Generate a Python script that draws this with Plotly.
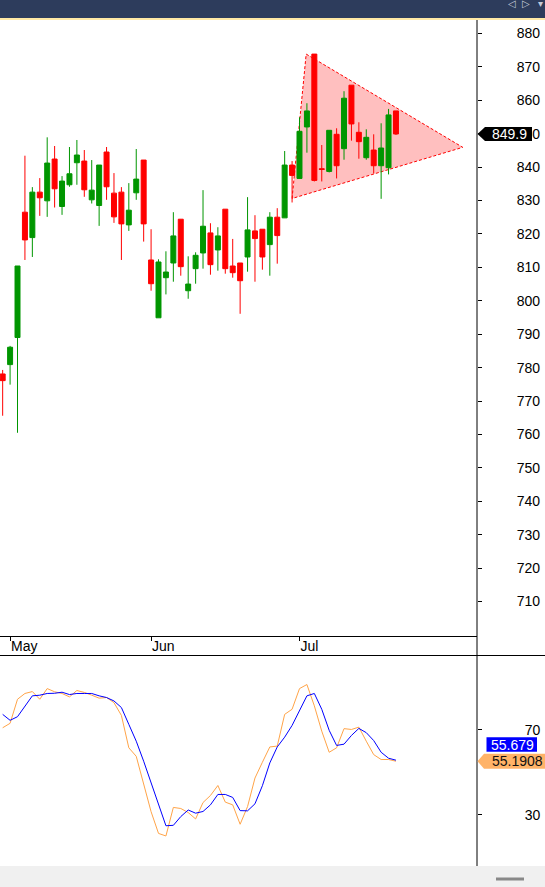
import plotly.graph_objects as go

# ---------------- data ----------------
idx = list(range(54))
opens = [778.1, 780.9, 789.0, 826.5, 818.9, 832.5, 829.9, 842.4, 828.2, 834.7,
         841.3, 841.8, 830.2, 828.5, 844.5, 832.2, 832.5, 822.7, 832.3, 842.1,
         812.2, 794.9, 806.9, 811.3, 824.4, 803.0, 809.6, 814.3, 820.3, 815.2,
         827.4, 810.4, 811.3, 813.1, 820.9, 821.4, 816.8, 825.0, 824.8, 840.6,
         836.6, 852.0, 873.8, 839.5, 838.7, 849.8, 845.5, 864.5, 850.4, 842.8,
         845.1, 840.4, 839.8, 856.8]
highs = [779.3, 786.5, 810.4, 843.4, 834.0, 836.7, 848.9, 846.3, 837.3, 846.0,
         848.1, 845.1, 842.1, 840.6, 846.0, 838.2, 834.0, 835.2, 845.4, 842.1,
         821.4, 812.4, 814.8, 826.5, 824.4, 813.3, 814.5, 833.1, 823.2, 822.0,
         827.4, 818.5, 811.3, 831.0, 825.6, 821.4, 826.5, 827.7, 844.8, 841.8,
         854.9, 859.1, 873.8, 846.6, 851.0, 851.6, 862.7, 864.5, 853.4, 851.3,
         849.8, 853.1, 857.4, 856.8]
lows = [765.6, 774.9, 760.5, 812.2, 813.1, 825.4, 825.1, 827.9, 825.7, 834.1,
        834.7, 831.1, 829.1, 822.4, 830.2, 823.3, 812.2, 820.9, 830.2, 817.7,
        803.0, 794.9, 801.9, 805.7, 807.5, 800.6, 805.1, 809.6, 807.8, 809.0,
        808.1, 806.9, 796.1, 808.7, 805.7, 809.3, 807.5, 811.1, 824.8, 829.4,
        836.6, 844.3, 835.7, 835.7, 838.4, 836.6, 842.2, 847.9, 842.5, 842.2,
        838.1, 830.5, 837.8, 849.6]
closes = [776.1, 786.1, 810.4, 818.2, 832.5, 830.8, 841.2, 833.5, 835.8, 838.0,
          843.6, 833.2, 833.1, 840.6, 834.1, 825.1, 823.0, 827.1, 836.4, 823.0,
          805.1, 811.6, 808.6, 819.4, 810.2, 805.0, 813.6, 822.3, 810.8, 819.4,
          809.6, 808.4, 806.0, 821.2, 818.6, 813.1, 825.0, 819.5, 840.6, 837.5,
          850.7, 856.8, 836.0, 839.3, 851.0, 840.4, 860.6, 852.9, 847.6, 848.9,
          840.4, 845.7, 855.6, 849.9]

month_idx = [1, 20, 40]
month_lbl = ["May", "Jun", "Jul"]
price_ticks = list(range(710, 881, 10))

# triangle pattern (index, price)
tri_x = [39.0, 40.9, 62.0]
tri_y = [830.6, 873.8, 845.9]

# oscillator lines
osc_blue = [77.2, 74.4, 76.1, 81.2, 85.9, 86.2, 87.0, 87.1, 87.6, 86.5,
            87.0, 87.0, 87.0, 85.9, 85.1, 83.5, 80.4, 72.5, 64.6, 55.2,
            44.9, 34.7, 24.9, 25.1, 29.2, 32.3, 30.8, 31.6, 34.7, 39.6,
            39.6, 38.2, 32.0, 31.9, 35.2, 43.7, 54.4, 61.9, 66.5, 72.0,
            78.8, 85.9, 87.0, 79.6, 69.7, 62.6, 63.2, 67.3, 70.6, 68.6,
            64.9, 59.4, 56.6, 55.679]
osc_orange = [70.9, 73.0, 84.3, 87.0, 87.9, 84.3, 89.3, 87.8, 87.0, 85.4,
              88.4, 87.5, 86.2, 84.8, 85.1, 82.7, 76.7, 61.5, 57.5, 44.9,
              31.5, 21.3, 20.1, 33.5, 33.0, 31.1, 28.1, 35.8, 39.1, 43.8,
              36.0, 34.7, 25.6, 33.9, 47.3, 54.7, 61.9, 62.3, 77.2, 79.6,
              89.3, 91.2, 81.2, 69.3, 59.4, 61.5, 70.5, 70.1, 71.2, 64.6,
              58.3, 56.0, 56.0, 55.1908]
osc_ticks = [30, 70]

# ---------------- layout geometry ----------------
W, H = 545, 887
ML, MR, MT, MB = 0, 68, 20, 21
PW, PH = W - ML - MR, H - MT - MB


def py(y):   # pixel row -> paper y
    return (H - MB - y) / PH


def px(x):   # pixel col -> paper x
    return (x - ML) / PW


GREEN = "#009600"
RED = "#FF0000"
BLUE = "#0000FF"
ORANGE = "#FFA448"
FONT = "Liberation Sans, Arial, sans-serif"

fig = go.Figure()

fig.add_trace(go.Candlestick(
    x=idx, open=opens, high=highs, low=lows, close=closes,
    increasing=dict(line=dict(color=GREEN, width=1), fillcolor=GREEN),
    decreasing=dict(line=dict(color=RED, width=1), fillcolor=RED),
    whiskerwidth=0, xaxis="x", yaxis="y", showlegend=False, hoverinfo="skip",
))

fig.add_trace(go.Scatter(x=idx, y=osc_orange, mode="lines",
                         line=dict(color=ORANGE, width=1),
                         xaxis="x2", yaxis="y2", showlegend=False))
fig.add_trace(go.Scatter(x=idx, y=osc_blue, mode="lines",
                         line=dict(color=BLUE, width=1),
                         xaxis="x2", yaxis="y2", showlegend=False))

shapes = []
# triangle (below candles)
tri_path = "M {},{} L {},{} L {},{} Z".format(tri_x[0], tri_y[0], tri_x[1], tri_y[1], tri_x[2], tri_y[2])
shapes.append(dict(type="path", xref="x", yref="y", path=tri_path,
                   fillcolor="rgba(255,0,0,0.25)", layer="below",
                   line=dict(color=RED, width=1, dash="3px,2px")))

# header bar & accent line
shapes.append(dict(type="rect", xref="paper", yref="paper", x0=px(0), x1=px(W),
                   y0=py(18), y1=py(0), fillcolor="#2D3C5C", line=dict(width=0)))
shapes.append(dict(type="rect", xref="paper", yref="paper", x0=px(0), x1=px(W),
                   y0=py(20), y1=py(18), fillcolor="#FFE9A6", line=dict(width=0)))
# bottom strip and handle
shapes.append(dict(type="rect", xref="paper", yref="paper", x0=px(0), x1=px(W),
                   y0=py(H), y1=py(866), fillcolor="#F0F0F0", line=dict(width=0)))
shapes.append(dict(type="line", xref="paper", yref="paper", x0=px(496), x1=px(524),
                   y0=py(879), y1=py(879), line=dict(color="#888888", width=3)))
# vertical axis line and pane separator
shapes.append(dict(type="line", xref="paper", yref="paper", x0=1, x1=1,
                   y0=0, y1=1, line=dict(color="black", width=1)))
shapes.append(dict(type="line", xref="paper", yref="paper", x0=0, x1=px(W),
                   y0=py(655.5), y1=py(655.5), line=dict(color="black", width=1)))

# last price tag (black pentagon)
c = closes[-1]
hh = 2.1
shapes.append(dict(type="path", xref="paper", yref="y",
                   path="M {a},{c} L {b},{t} L {r},{t} L {r},{bt} L {b},{bt} Z".format(
                       a=px(477.5), b=px(485), r=px(532), c=c, t=c + hh, bt=c - hh),
                   fillcolor="black", line=dict(width=0)))
# orange oscillator tag
oc = osc_orange[-1]
oh = 3.5
shapes.append(dict(type="path", xref="paper", yref="y2",
                   path="M {a},{c} L {b},{t} L {r},{t} L {r},{bt} L {b},{bt} Z".format(
                       a=px(477.5), b=px(484), r=px(545), c=oc, t=oc + oh, bt=oc - oh),
                   fillcolor="#FFB368", line=dict(width=0)))
# blue oscillator tag (shifted up to avoid overlap)
bc = 63.0
shapes.append(dict(type="rect", xref="paper", yref="y2", x0=px(486.5), x1=px(537),
                   y0=bc - 3.4, y1=bc + 3.4, fillcolor=BLUE, line=dict(width=0)))

annotations = [
    dict(xref="paper", yref="y", x=px(509), y=c, text="{:.1f}".format(c), showarrow=False,
         font=dict(family=FONT, size=14, color="white"), xanchor="center", yanchor="middle"),
    dict(xref="paper", yref="y2", x=px(517), y=oc, text="55.1908", showarrow=False,
         font=dict(family=FONT, size=14, color="#111111"), xanchor="center", yanchor="middle"),
    dict(xref="paper", yref="y2", x=px(512.5), y=bc, text="55.679", showarrow=False,
         font=dict(family=FONT, size=14, color="white"), xanchor="center", yanchor="middle"),
]
for xx, ch in [(512, "◁"), (526, "▷"), (540, "▾")]:
    annotations.append(dict(xref="paper", yref="paper", x=px(xx), y=py(4), text=ch,
                            showarrow=False, font=dict(family="DejaVu Sans", size=10, color="#C4CAD8"),
                            xanchor="center", yanchor="middle"))

axis_font = dict(family=FONT, size=14, color="black")

fig.update_layout(
    width=W, height=H,
    margin=dict(l=ML, r=MR, t=MT, b=MB, pad=0),
    paper_bgcolor="white", plot_bgcolor="white",
    showlegend=False,
    boxgap=0.33, boxgroupgap=0,
    shapes=shapes, annotations=annotations,
    xaxis=dict(domain=[0, 1], anchor="y", range=[-0.36, 63.92],
               tickmode="array", tickvals=month_idx, ticktext=month_lbl,
               ticks="outside", ticklen=4, tickcolor="black", tickwidth=1,
               ticklabelposition="outside right", tickfont=axis_font,
               ticklabelstandoff=-3,
               showline=True, linecolor="black", linewidth=1,
               showgrid=False, zeroline=False, rangeslider=dict(visible=False)),
    yaxis=dict(domain=[py(636), 1], anchor="x", side="right", range=[699.7, 884.0],
               tickmode="array", tickvals=price_ticks,
               ticks="outside", ticklen=4, tickcolor="black", tickwidth=1,
               tickfont=axis_font, ticklabelstandoff=32,
               showline=False, showgrid=False, zeroline=False),
    xaxis2=dict(domain=[0, 1], anchor="y2", matches="x", showticklabels=False,
                ticks="", showline=False, showgrid=False, zeroline=False),
    yaxis2=dict(domain=[0, py(656)], anchor="x2", side="right", range=[6.0, 104.6],
                tickmode="array", tickvals=osc_ticks,
                ticks="outside", ticklen=4, tickcolor="black", tickwidth=1,
                tickfont=axis_font, ticklabelstandoff=40,
                showline=False, showgrid=False, zeroline=False),
)

fig.write_html("out.html", config={"displayModeBar": False},
               post_script="document.body.style.margin='0';document.body.style.overflow='hidden';")
